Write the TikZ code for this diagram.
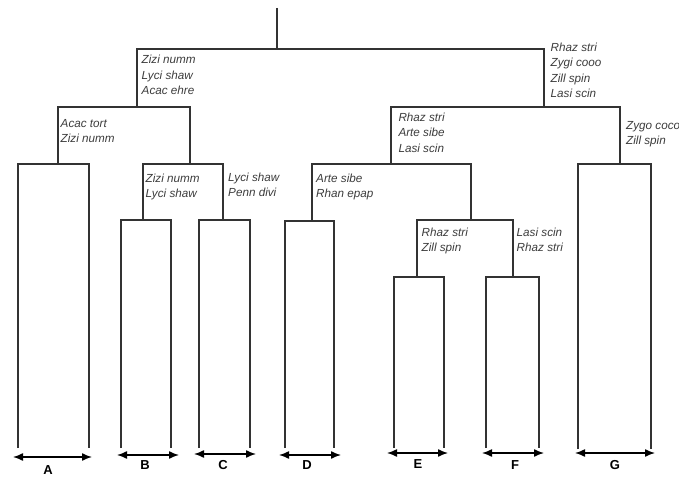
\documentclass[tikz,border=0pt]{standalone}
\usepackage{fontspec}
\setmainfont{Liberation Sans}
\usetikzlibrary{arrows.meta}
\definecolor{inkline}{HTML}{333333}
\definecolor{inktext}{HTML}{3C3C3C}
\tikzset{
  branch/.style={draw=inkline, line width=1.4pt, line join=miter},
  leafarrow/.style={draw=black, line width=1.4pt,
    {Latex[length=10pt,width=8pt]}-{Latex[length=10pt,width=8pt]}},
  % anchored at the baseline of the last line
  taxa/.style={anchor=base west, inner sep=0pt, align=left, text=inktext,
    font=\fontsize{11.7pt}{15.3pt}\selectfont\itshape},
  leaflabel/.style={inner sep=0pt, text=black,
    font=\fontsize{13pt}{15pt}\selectfont\bfseries},
}
\begin{document}
\begin{tikzpicture}[x=1pt,y=-1pt]
\useasboundingbox (0,0) rectangle (679,478);

% junctions: x of the stem, y of the bar that joins its two children
\coordinate (top) at (277,8);
\coordinate (r)   at (277,49);
\coordinate (c1)  at (137,107);
\coordinate (c2)  at (544,107);
\coordinate (c3)  at (58,164);
\coordinate (c4)  at (190,164);
\coordinate (c5)  at (143,220);
\coordinate (c6)  at (223,220);
\coordinate (c7)  at (391,164);
\coordinate (c8)  at (312,221);
\coordinate (c9)  at (471,220);
\coordinate (c10) at (417,277);
\coordinate (c11) at (513,277);
\coordinate (c12) at (620,164);

% lower ends of the leaf groups
\coordinate (a1) at (18,448);  \coordinate (a2) at (89,448);
\coordinate (b1) at (121,448); \coordinate (b2) at (171,448);
\coordinate (d1) at (199,448); \coordinate (d2) at (250,448);
\coordinate (e1) at (285,448); \coordinate (e2) at (334,448);
\coordinate (f1) at (394,448); \coordinate (f2) at (444,448);
\coordinate (g1) at (486,448); \coordinate (g2) at (539,448);
\coordinate (h1) at (578,449); \coordinate (h2) at (651,449);

% tree
\draw[branch] (top) -- (r);
\draw[branch] (c1) |- (r) -| (c2);
\draw[branch] (c3) |- (c1) -| (c4);
\draw[branch] (c5) |- (c4) -| (c6);
\draw[branch] (c7) |- (c2) -| (c12);
\draw[branch] (c8) |- (c7) -| (c9);
\draw[branch] (c10) |- (c9) -| (c11);

% leaf groups
\draw[branch] (a1) |- (c3) -| (a2);
\draw[branch] (b1) |- (c5) -| (b2);
\draw[branch] (d1) |- (c6) -| (d2);
\draw[branch] (e1) |- (c8) -| (e2);
\draw[branch] (f1) |- (c10) -| (f2);
\draw[branch] (g1) |- (c11) -| (g2);
\draw[branch] (h1) |- (c12) -| (h2);

% span arrows
\coordinate (pa1) at (13,457);  \coordinate (pa2) at (92,457);
\coordinate (pb1) at (117,455); \coordinate (pb2) at (179,455);
\coordinate (pc1) at (194,454); \coordinate (pc2) at (256,454);
\coordinate (pd1) at (279,455); \coordinate (pd2) at (341,455);
\coordinate (pe1) at (387,453); \coordinate (pe2) at (448,453);
\coordinate (pf1) at (482,453); \coordinate (pf2) at (544,453);
\coordinate (pg1) at (575,453); \coordinate (pg2) at (655,453);
\draw[leafarrow] (pa1) -- (pa2);
\draw[leafarrow] (pb1) -- (pb2);
\draw[leafarrow] (pc1) -- (pc2);
\draw[leafarrow] (pd1) -- (pd2);
\draw[leafarrow] (pe1) -- (pe2);
\draw[leafarrow] (pf1) -- (pf2);
\draw[leafarrow] (pg1) -- (pg2);

% leaf group letters
\node[leaflabel] (lA) at (48,470.5) {A};
\node[leaflabel] (lB) at (145,465) {B};
\node[leaflabel] (lC) at (223,465) {C};
\node[leaflabel] (lD) at (307,465) {D};
\node[leaflabel] (lE) at (418,464) {E};
\node[leaflabel] (lF) at (515,465) {F};
\node[leaflabel] (lG) at (615,465) {G};

% species shared by each cluster
\node[taxa] (t1) at (141.5,94.6) {Zizi numm\\Lyci shaw\\Acac ehre};
\node[taxa] (t2) at (550.5,97.6) {Rhaz stri\\Zygi cooo\\Zill spin\\Lasi scin};
\node[taxa] (t3) at (60.5,142.8) {Acac tort\\Zizi numm};
\node[taxa] (t4) at (398.3,152.3){Rhaz stri\\Arte sibe\\Lasi scin};
\node[taxa] (t5) at (626,144.8)  {Zygo coco\\Zill spin};
\node[taxa] (t6) at (145.5,197.8){Zizi numm\\Lyci shaw};
\node[taxa] (t7) at (228,196.8)  {Lyci shaw\\Penn divi};
\node[taxa] (t8) at (316,197.8)  {Arte sibe\\Rhan epap};
\node[taxa] (t9) at (421.5,251.8){Rhaz stri\\Zill spin};
\node[taxa] (t10) at (516.5,251.8){Lasi scin\\Rhaz stri};
\end{tikzpicture}
\end{document}
